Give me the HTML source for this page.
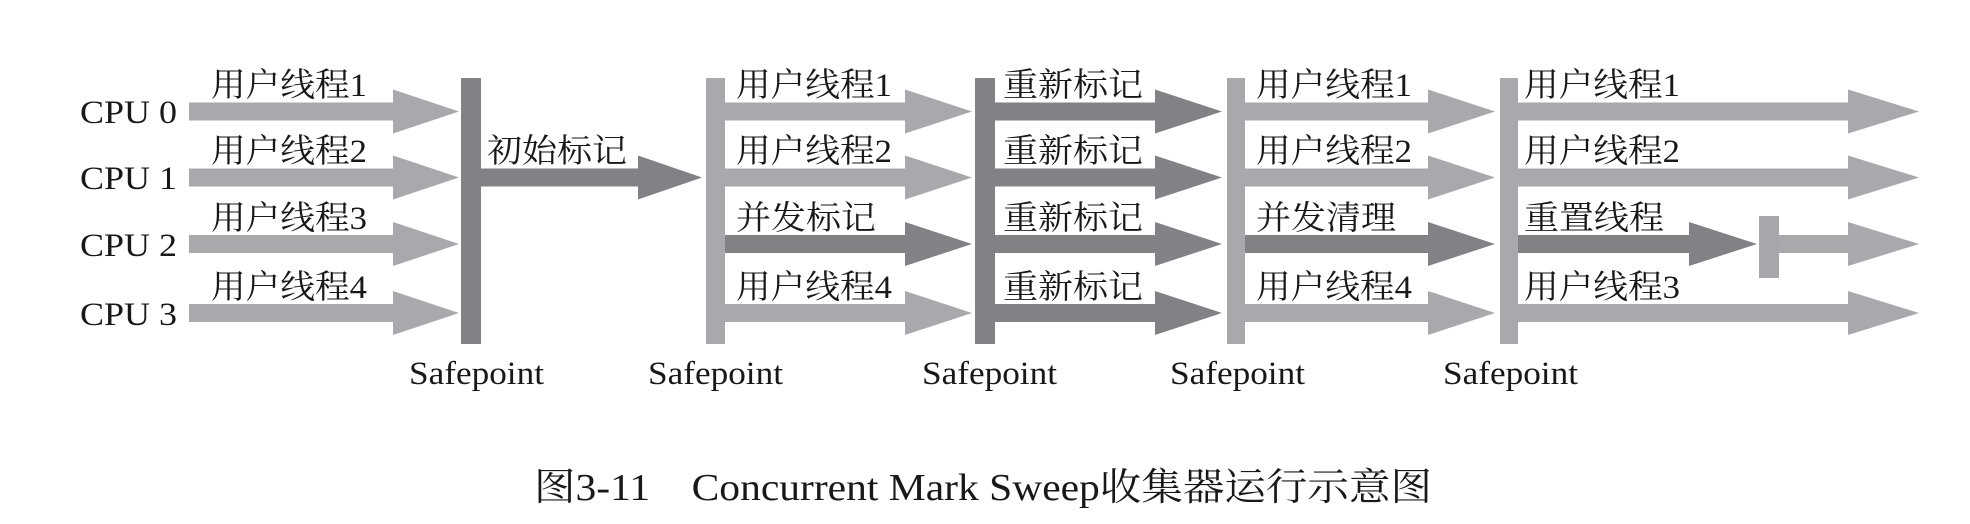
<!DOCTYPE html>
<html><head><meta charset="utf-8"><style>
html,body{margin:0;padding:0;background:#fff;}
svg{display:block}
text{font-family:"Liberation Serif","Noto Serif CJK SC",serif;fill:#1a1718;}
</style></head><body>
<svg width="1970" height="524" viewBox="0 0 1970 524" xmlns="http://www.w3.org/2000/svg">
<g id="arrows">
<polygon fill="#a7a9ac" points="189,102.5 393,102.5 393,89.5 459,111.5 393,133.5 393,120.5 189,120.5"/>
<polygon fill="#a7a9ac" points="189,168.5 393,168.5 393,155.5 459,177.5 393,199.5 393,186.5 189,186.5"/>
<polygon fill="#a7a9ac" points="189,235 393,235 393,222 459,244 393,266 393,253 189,253"/>
<polygon fill="#a7a9ac" points="189,304 393,304 393,291 459,313 393,335 393,322 189,322"/>
<rect x="461" y="78" width="20" height="266" fill="#808285"/>
<polygon fill="#808285" points="481,168.5 638,168.5 638,155.5 702,177.5 638,199.5 638,186.5 481,186.5"/>
<rect x="706" y="78" width="19" height="266" fill="#a7a9ac"/>
<polygon fill="#a7a9ac" points="725,102.5 905,102.5 905,89.5 972,111.5 905,133.5 905,120.5 725,120.5"/>
<polygon fill="#a7a9ac" points="725,168.5 905,168.5 905,155.5 972,177.5 905,199.5 905,186.5 725,186.5"/>
<polygon fill="#808285" points="725,235 905,235 905,222 972,244 905,266 905,253 725,253"/>
<polygon fill="#a7a9ac" points="725,304 905,304 905,291 972,313 905,335 905,322 725,322"/>
<rect x="975" y="78" width="20" height="266" fill="#808285"/>
<polygon fill="#808285" points="995,102.5 1155,102.5 1155,89.5 1222,111.5 1155,133.5 1155,120.5 995,120.5"/>
<polygon fill="#808285" points="995,168.5 1155,168.5 1155,155.5 1222,177.5 1155,199.5 1155,186.5 995,186.5"/>
<polygon fill="#808285" points="995,235 1155,235 1155,222 1222,244 1155,266 1155,253 995,253"/>
<polygon fill="#808285" points="995,304 1155,304 1155,291 1222,313 1155,335 1155,322 995,322"/>
<rect x="1227" y="78" width="18" height="266" fill="#a7a9ac"/>
<polygon fill="#a7a9ac" points="1245,102.5 1428,102.5 1428,89.5 1495,111.5 1428,133.5 1428,120.5 1245,120.5"/>
<polygon fill="#a7a9ac" points="1245,168.5 1428,168.5 1428,155.5 1495,177.5 1428,199.5 1428,186.5 1245,186.5"/>
<polygon fill="#808285" points="1245,235 1428,235 1428,222 1495,244 1428,266 1428,253 1245,253"/>
<polygon fill="#a7a9ac" points="1245,304 1428,304 1428,291 1495,313 1428,335 1428,322 1245,322"/>
<rect x="1500" y="78" width="18" height="266" fill="#a7a9ac"/>
<polygon fill="#a7a9ac" points="1518,102.5 1848,102.5 1848,89.5 1919,111.5 1848,133.5 1848,120.5 1518,120.5"/>
<polygon fill="#a7a9ac" points="1518,168.5 1848,168.5 1848,155.5 1919,177.5 1848,199.5 1848,186.5 1518,186.5"/>
<polygon fill="#808285" points="1518,235 1689,235 1689,222 1757,244 1689,266 1689,253 1518,253"/>
<rect x="1759" y="216" width="20" height="62" fill="#a8a6ab"/>
<polygon fill="#a7a9ac" points="1779,235 1848,235 1848,222 1919,244 1848,266 1848,253 1779,253"/>
<polygon fill="#a7a9ac" points="1518,304 1848,304 1848,291 1919,313 1848,335 1848,322 1518,322"/>
</g>
<g font-size="33">
<text x="80" y="123" textLength="97" lengthAdjust="spacingAndGlyphs">CPU 0</text>
<text x="80" y="189" textLength="97" lengthAdjust="spacingAndGlyphs">CPU 1</text>
<text x="80" y="256" textLength="97" lengthAdjust="spacingAndGlyphs">CPU 2</text>
<text x="80" y="325" textLength="97" lengthAdjust="spacingAndGlyphs">CPU 3</text>
<text x="409" y="384" textLength="135" lengthAdjust="spacingAndGlyphs">Safepoint</text>
<text x="648" y="384" textLength="135" lengthAdjust="spacingAndGlyphs">Safepoint</text>
<text x="922" y="384" textLength="135" lengthAdjust="spacingAndGlyphs">Safepoint</text>
<text x="1170" y="384" textLength="135" lengthAdjust="spacingAndGlyphs">Safepoint</text>
<text x="1443" y="384" textLength="135" lengthAdjust="spacingAndGlyphs">Safepoint</text>
</g>
<g font-size="33">
<text x="211" y="96" textLength="156" lengthAdjust="spacingAndGlyphs">用户线程1</text>
<text x="211" y="162" textLength="156" lengthAdjust="spacingAndGlyphs">用户线程2</text>
<text x="211" y="229" textLength="156" lengthAdjust="spacingAndGlyphs">用户线程3</text>
<text x="211" y="298" textLength="156" lengthAdjust="spacingAndGlyphs">用户线程4</text>
<text x="487" y="162" textLength="140" lengthAdjust="spacingAndGlyphs">初始标记</text>
<text x="736" y="96" textLength="156" lengthAdjust="spacingAndGlyphs">用户线程1</text>
<text x="736" y="162" textLength="156" lengthAdjust="spacingAndGlyphs">用户线程2</text>
<text x="736" y="229" textLength="140" lengthAdjust="spacingAndGlyphs">并发标记</text>
<text x="736" y="298" textLength="156" lengthAdjust="spacingAndGlyphs">用户线程4</text>
<text x="1003" y="96" textLength="140" lengthAdjust="spacingAndGlyphs">重新标记</text>
<text x="1003" y="162" textLength="140" lengthAdjust="spacingAndGlyphs">重新标记</text>
<text x="1003" y="229" textLength="140" lengthAdjust="spacingAndGlyphs">重新标记</text>
<text x="1003" y="298" textLength="140" lengthAdjust="spacingAndGlyphs">重新标记</text>
<text x="1256" y="96" textLength="156" lengthAdjust="spacingAndGlyphs">用户线程1</text>
<text x="1256" y="162" textLength="156" lengthAdjust="spacingAndGlyphs">用户线程2</text>
<text x="1256" y="229" textLength="140" lengthAdjust="spacingAndGlyphs">并发清理</text>
<text x="1256" y="298" textLength="156" lengthAdjust="spacingAndGlyphs">用户线程4</text>
<text x="1524" y="96" textLength="156" lengthAdjust="spacingAndGlyphs">用户线程1</text>
<text x="1524" y="162" textLength="156" lengthAdjust="spacingAndGlyphs">用户线程2</text>
<text x="1524" y="229" textLength="140" lengthAdjust="spacingAndGlyphs">重置线程</text>
<text x="1524" y="298" textLength="156" lengthAdjust="spacingAndGlyphs">用户线程3</text>
</g>
<text x="534" y="500" font-size="38" textLength="898" lengthAdjust="spacingAndGlyphs">图3-11　Concurrent Mark Sweep收集器运行示意图</text>
</svg>
</body></html>
